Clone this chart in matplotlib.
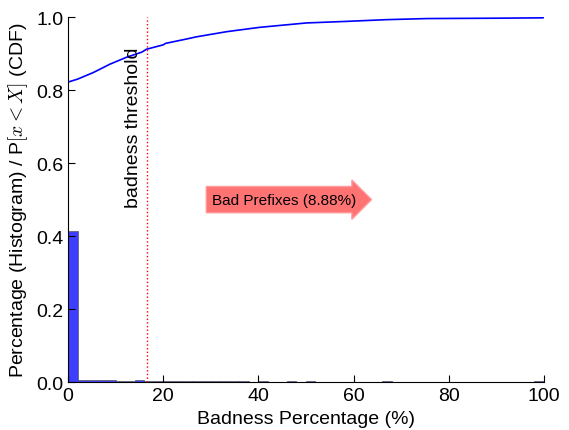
import matplotlib
matplotlib.use('Agg')
import matplotlib.pyplot as plt
import numpy as np

plt.rcParams['font.family'] = ['Liberation Sans', 'DejaVu Sans']
plt.rcParams['mathtext.fontset'] = 'cm'

# histogram (bins of width 2, fraction of prefixes)
bin_edges = list(range(0, 102, 2))
hist_vals = [0.413, 0.007, 0.006, 0.005, 0.005, 0.004, 0.004, 0.005, 0.004, 0.003,
             0.004, 0.003, 0.002, 0.003, 0.002, 0.002, 0.003, 0.002, 0.002, 0.001,
             0.002, 0.001, 0.001, 0.002, 0.001, 0.003, 0.001, 0.001, 0.001, 0.001,
             0.001, 0.001, 0.001, 0.002, 0.001, 0.001, 0.001, 0.001, 0.001, 0.001,
             0.001, 0.001, 0.001, 0.001, 0.001, 0.001, 0.001, 0.001, 0.001, 0.002]

# CDF of badness percentage
cdf_x = [0, 0, 2, 5.3, 8.8, 12.3, 15.5, 16.5, 20, 20.5, 24.9, 27, 33.3, 40.3,
         50.1, 58, 66.9, 75.4, 90, 99.8, 100]
cdf_y = [0.0, 0.822, 0.830, 0.848, 0.871, 0.890, 0.904, 0.912, 0.924, 0.928,
         0.940, 0.946, 0.960, 0.972, 0.984, 0.988, 0.993, 0.996, 0.997, 0.998, 1.0]

threshold = 16.5
bad_share = 8.88

fig = plt.figure(figsize=(5.69, 4.31), dpi=100)
ax = fig.add_axes([0.1195, 0.111, 0.8365, 0.847])

ax.bar(bin_edges[:-1], hist_vals, width=2, align='edge', color='#3333ff',
       alpha=0.95, edgecolor='#555555', linewidth=0.5)
ax.plot(cdf_x, cdf_y, color='blue', linewidth=1.2)

ax.axvline(threshold, color='red', linestyle=':', linewidth=1)
ax.text(threshold - 2.8, 0.70, 'badness threshold', rotation=90,
        ha='center', va='center', fontsize=14)

ax.text(45.5, 0.5, 'Bad Prefixes (%.2f%%)' % bad_share, ha='center', va='center',
        fontsize=11,
        bbox=dict(boxstyle='rarrow,pad=0.4', facecolor='#ff7373', edgecolor='#ff9a9a'))

ax.set_xlim(0, 100)
ax.set_ylim(0, 1.0)
ax.set_xticks([0, 20, 40, 60, 80, 100])
ax.set_yticks([0.0, 0.2, 0.4, 0.6, 0.8, 1.0])
ax.set_yticklabels(['0.0', '0.2', '0.4', '0.6', '0.8', '1.0'])

ax.spines['right'].set_color('none')
ax.spines['top'].set_color('none')
ax.tick_params(direction='in', labelsize=14, length=5)

ax.set_xlabel('Badness Percentage (%)', fontsize=14)
ax.set_ylabel('Percentage (Histogram) / P$[x < X]$ (CDF)', fontsize=14)

fig.savefig('out.png', dpi=100)
